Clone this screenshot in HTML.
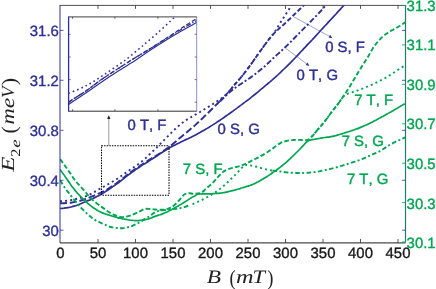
<!DOCTYPE html>
<html><head><meta charset="utf-8"><title>chart</title>
<style>html,body{margin:0;padding:0;background:#fff}body{width:436px;height:289px;overflow:hidden;position:relative;font-family:"Liberation Sans",sans-serif}</style></head>
<body>
<svg width="436" height="289" viewBox="0 0 436 289" style="position:absolute;left:0;top:0;font-family:'Liberation Sans',sans-serif;text-rendering:geometricPrecision;font-kerning:none;will-change:transform">
<rect width="436" height="289" fill="#fff"/>
<defs><clipPath id="c"><rect x="60" y="5.5" width="345.5" height="236.5"/></clipPath></defs>
<g clip-path="url(#c)">
<path d="M60.0,208.5 C60.7,208.4 62.7,208.3 64.0,208.2 C65.3,208.0 66.7,207.8 68.0,207.6 C69.3,207.4 70.7,207.1 72.0,206.7 C73.3,206.4 74.7,205.9 76.0,205.5 C77.3,205.1 78.7,204.5 80.0,204.0 C81.3,203.5 82.7,202.9 84.0,202.3 C85.3,201.7 86.7,201.2 88.0,200.6 C89.3,200.1 90.7,199.5 92.0,198.9 C93.3,198.3 94.7,197.7 96.0,197.0 C97.3,196.3 98.7,195.6 100.0,194.9 C101.3,194.2 102.7,193.4 104.0,192.6 C105.3,191.7 106.7,190.8 108.0,190.0 C109.3,189.1 110.7,188.2 112.0,187.2 C113.3,186.3 114.7,185.4 116.0,184.4 C117.3,183.5 118.7,182.5 120.0,181.5 C121.3,180.5 122.7,179.4 124.0,178.4 C125.3,177.3 126.7,176.2 128.0,175.2 C129.3,174.2 130.7,173.2 132.0,172.2 C133.3,171.2 134.7,170.3 136.0,169.4 C137.3,168.4 138.7,167.5 140.0,166.7 C141.3,165.8 142.7,164.9 144.0,164.1 C145.3,163.3 146.7,162.5 148.0,161.7 C149.3,160.8 150.7,160.0 152.0,159.1 C153.3,158.3 154.7,157.4 156.0,156.5 C157.3,155.6 158.7,154.8 160.0,153.9 C161.3,153.0 162.7,152.1 164.0,151.2 C165.3,150.4 166.7,149.5 168.0,148.7 C169.3,147.9 170.7,147.2 172.0,146.5 C173.3,145.8 174.7,145.2 176.0,144.5 C177.3,143.8 178.7,143.2 180.0,142.5 C181.3,141.9 182.7,141.2 184.0,140.6 C185.3,139.9 186.7,139.3 188.0,138.7 C189.3,138.0 190.7,137.4 192.0,136.7 C193.3,136.1 194.7,135.4 196.0,134.7 C197.3,134.0 198.7,133.2 200.0,132.5 C201.3,131.7 202.7,131.0 204.0,130.2 C205.3,129.4 206.7,128.7 208.0,127.9 C209.3,127.1 210.7,126.3 212.0,125.4 C213.3,124.6 214.7,123.7 216.0,122.9 C217.3,122.0 218.7,121.1 220.0,120.2 C221.3,119.3 222.7,118.4 224.0,117.5 C225.3,116.5 226.7,115.6 228.0,114.6 C229.3,113.7 230.7,112.7 232.0,111.8 C233.3,110.8 234.7,109.8 236.0,108.9 C237.3,107.9 238.7,106.9 240.0,105.9 C241.3,104.9 242.7,103.9 244.0,102.9 C245.3,101.9 246.7,100.9 248.0,99.9 C249.3,98.8 250.7,97.8 252.0,96.7 C253.3,95.7 254.7,94.6 256.0,93.5 C257.3,92.5 258.7,91.3 260.0,90.2 C261.3,89.1 262.7,88.0 264.0,86.8 C265.3,85.7 266.7,84.6 268.0,83.5 C269.3,82.4 270.7,81.3 272.0,80.2 C273.3,79.0 274.7,77.8 276.0,76.6 C277.3,75.4 278.7,74.1 280.0,72.9 C281.3,71.6 282.7,70.3 284.0,69.0 C285.3,67.8 286.7,66.5 288.0,65.1 C289.3,63.8 290.7,62.5 292.0,61.1 C293.3,59.8 294.7,58.4 296.0,57.0 C297.3,55.6 298.7,54.1 300.0,52.7 C301.3,51.3 302.7,49.9 304.0,48.4 C305.3,47.0 306.7,45.6 308.0,44.2 C309.3,42.8 310.7,41.4 312.0,40.0 C313.3,38.5 314.7,37.1 316.0,35.6 C317.3,34.2 318.7,32.7 320.0,31.2 C321.3,29.8 322.7,28.4 324.0,26.9 C325.3,25.5 326.7,24.1 328.0,22.6 C329.3,21.2 330.7,19.8 332.0,18.3 C333.3,16.9 334.7,15.4 336.0,14.0 C337.3,12.5 338.7,11.0 340.0,9.6 C341.3,8.1 342.7,6.6 344.0,5.2 C345.3,3.7 347.0,1.8 348.0,0.7 C349.0,-0.4 349.7,-1.1 350.0,-1.5" fill="none" stroke="#2e3192" stroke-width="1.7"/>
<path d="M60.0,203.3 C60.7,203.3 62.7,203.2 64.0,203.2 C65.3,203.1 66.7,203.0 68.0,202.9 C69.3,202.8 70.7,202.7 72.0,202.5 C73.3,202.3 74.7,202.1 76.0,201.8 C77.3,201.6 78.7,201.2 80.0,200.8 C81.3,200.5 82.7,200.0 84.0,199.5 C85.3,199.1 86.7,198.6 88.0,198.1 C89.3,197.6 90.7,197.0 92.0,196.4 C93.3,195.8 94.7,195.2 96.0,194.7 C97.3,194.1 98.7,193.6 100.0,193.0 C101.3,192.4 102.7,191.8 104.0,191.1 C105.3,190.4 106.7,189.6 108.0,188.8 C109.3,188.0 110.7,187.2 112.0,186.3 C113.3,185.4 114.7,184.4 116.0,183.5 C117.3,182.5 118.7,181.5 120.0,180.5 C121.3,179.5 122.7,178.4 124.0,177.4 C125.3,176.3 126.7,175.2 128.0,174.2 C129.3,173.2 130.7,172.2 132.0,171.2 C133.3,170.3 134.7,169.4 136.0,168.5 C137.3,167.6 138.7,166.7 140.0,165.9 C141.3,165.0 142.7,164.1 144.0,163.2 C145.3,162.3 146.7,161.4 148.0,160.6 C149.3,159.7 150.7,158.9 152.0,158.1 C153.3,157.3 154.7,156.5 156.0,155.7 C157.3,154.9 158.7,154.1 160.0,153.3 C161.3,152.4 162.7,151.5 164.0,150.6 C165.3,149.7 166.7,148.8 168.0,147.8 C169.3,146.8 170.7,145.8 172.0,144.7 C173.3,143.6 174.7,142.4 176.0,141.3 C177.3,140.1 178.7,139.0 180.0,137.8 C181.3,136.7 182.7,135.6 184.0,134.5 C185.3,133.4 186.7,132.3 188.0,131.2 C189.3,130.1 190.7,129.0 192.0,127.8 C193.3,126.7 194.7,125.6 196.0,124.4 C197.3,123.2 198.7,121.9 200.0,120.7 C201.3,119.4 202.7,118.1 204.0,116.8 C205.3,115.6 206.7,114.3 208.0,113.0 C209.3,111.7 210.7,110.3 212.0,109.0 C213.3,107.7 214.7,106.3 216.0,105.0 C217.3,103.7 219.3,101.7 220.0,101.0" fill="none" stroke="#2e3192" stroke-width="1.9" stroke-dasharray="7 2.8"/>
<path d="M220.0,101.0 C220.7,100.3 222.7,98.3 224.0,96.9 C225.3,95.5 226.7,94.0 228.0,92.5 C229.3,91.0 230.7,89.5 232.0,87.9 C233.3,86.4 234.7,84.8 236.0,83.2 C237.3,81.7 238.7,80.1 240.0,78.5 C241.3,76.9 242.7,75.3 244.0,73.6 C245.3,71.9 246.7,70.2 248.0,68.4 C249.3,66.6 250.7,64.6 252.0,62.8 C253.3,60.9 254.7,59.0 256.0,57.1 C257.3,55.2 258.7,53.4 260.0,51.5 C261.3,49.7 262.7,47.8 264.0,45.9 C265.3,44.1 266.7,42.3 268.0,40.5 C269.3,38.8 270.7,37.2 272.0,35.7 C273.3,34.2 274.7,32.7 276.0,31.4 C277.3,30.1 278.7,29.0 280.0,27.8 C281.3,26.7 282.7,25.5 284.0,24.3 C285.3,23.1 286.7,21.8 288.0,20.5 C289.3,19.3 290.7,18.0 292.0,16.7 C293.3,15.4 294.7,14.1 296.0,12.8 C297.3,11.6 298.7,10.3 300.0,9.0 C301.3,7.7 302.7,6.3 304.0,5.0 C305.3,3.7 307.2,1.8 308.0,1.0 C308.8,0.2 308.8,0.2 309.0,0.0" fill="none" stroke="#2e3192" stroke-width="1.9" stroke-dasharray="4.7 2.3"/>
<path d="M220.0,101.3 C220.7,100.7 222.7,98.8 224.0,97.5 C225.3,96.3 226.7,94.9 228.0,93.7 C229.3,92.5 230.7,91.4 232.0,90.3 C233.3,89.2 234.7,88.2 236.0,87.2 C237.3,86.2 238.7,85.4 240.0,84.5 C241.3,83.6 242.7,82.8 244.0,81.9 C245.3,81.0 246.7,80.1 248.0,79.2 C249.3,78.3 250.7,77.4 252.0,76.4 C253.3,75.5 254.7,74.5 256.0,73.5 C257.3,72.5 258.7,71.4 260.0,70.3 C261.3,69.2 262.7,68.1 264.0,66.9 C265.3,65.7 266.7,64.5 268.0,63.2 C269.3,62.0 270.7,60.7 272.0,59.4 C273.3,58.2 274.7,57.0 276.0,55.7 C277.3,54.5 278.7,53.3 280.0,52.1 C281.3,50.9 282.7,49.6 284.0,48.4 C285.3,47.1 286.7,45.9 288.0,44.6 C289.3,43.3 290.7,41.9 292.0,40.6 C293.3,39.2 294.7,37.8 296.0,36.4 C297.3,35.0 298.7,33.7 300.0,32.3 C301.3,30.9 302.7,29.6 304.0,28.3 C305.3,27.0 306.7,25.6 308.0,24.3 C309.3,22.9 310.7,21.5 312.0,20.2 C313.3,18.8 314.7,17.5 316.0,16.1 C317.3,14.7 318.7,13.3 320.0,11.8 C321.3,10.4 322.7,8.8 324.0,7.3 C325.3,5.8 326.8,4.2 328.0,2.9 C329.2,1.5 330.5,0.1 331.0,-0.5" fill="none" stroke="#2e3192" stroke-width="1.9" stroke-dasharray="5.6 2.2 2 2.2"/>
<path d="M60.0,201.2 C60.7,201.2 62.7,201.1 64.0,201.0 C65.3,200.9 66.7,200.8 68.0,200.6 C69.3,200.4 70.7,200.2 72.0,199.9 C73.3,199.7 74.7,199.3 76.0,199.0 C77.3,198.7 78.7,198.4 80.0,198.1 C81.3,197.7 82.7,197.4 84.0,196.9 C85.3,196.5 86.7,196.0 88.0,195.4 C89.3,194.8 90.7,194.1 92.0,193.3 C93.3,192.6 94.7,191.7 96.0,191.0 C97.3,190.2 98.7,189.4 100.0,188.7 C101.3,187.9 102.7,187.3 104.0,186.5 C105.3,185.8 106.7,185.1 108.0,184.3 C109.3,183.5 110.7,182.8 112.0,182.0 C113.3,181.2 114.7,180.4 116.0,179.6 C117.3,178.7 118.7,177.8 120.0,176.9 C121.3,176.0 122.7,175.0 124.0,174.1 C125.3,173.1 126.7,172.2 128.0,171.2 C129.3,170.3 130.7,169.4 132.0,168.4 C133.3,167.5 134.7,166.7 136.0,165.7 C137.3,164.8 138.7,163.9 140.0,162.9 C141.3,161.9 142.7,160.8 144.0,159.6 C145.3,158.4 146.7,157.2 148.0,155.9 C149.3,154.6 150.7,153.4 152.0,152.1 C153.3,150.8 154.7,149.5 156.0,148.2 C157.3,146.9 158.7,145.5 160.0,144.2 C161.3,142.9 162.7,141.5 164.0,140.2 C165.3,138.9 166.7,137.5 168.0,136.2 C169.3,134.8 170.7,133.5 172.0,132.2 C173.3,130.9 174.7,129.5 176.0,128.2 C177.3,127.0 178.7,125.8 180.0,124.7 C181.3,123.5 182.7,122.5 184.0,121.5 C185.3,120.5 186.7,119.7 188.0,118.9 C189.3,118.1 190.7,117.4 192.0,116.6 C193.3,115.9 194.7,115.1 196.0,114.3 C197.3,113.6 198.7,112.8 200.0,112.0 C201.3,111.2 202.7,110.3 204.0,109.5 C205.3,108.7 206.7,107.9 208.0,107.1 C209.3,106.3 210.7,105.5 212.0,104.6 C213.3,103.8 214.7,103.0 216.0,102.1 C217.3,101.2 218.7,100.2 220.0,99.2 C221.3,98.3 222.7,97.5 224.0,96.3 C225.3,95.2 226.7,93.9 228.0,92.5 C229.3,91.1 230.7,89.5 232.0,87.9 C233.3,86.4 234.7,84.8 236.0,83.2 C237.3,81.7 238.7,80.1 240.0,78.5 C241.3,76.9 242.7,75.3 244.0,73.6 C245.3,71.9 246.7,70.2 248.0,68.4 C249.3,66.6 250.7,64.6 252.0,62.8 C253.3,60.9 254.7,59.0 256.0,57.1 C257.3,55.2 258.7,53.4 260.0,51.5 C261.3,49.7 262.7,47.8 264.0,46.0 C265.3,44.1 266.7,42.3 268.0,40.5 C269.3,38.8 270.7,37.3 272.0,35.5 C273.3,33.8 274.7,32.1 276.0,30.1 C277.3,28.0 278.7,25.4 280.0,23.2 C281.3,21.0 282.7,19.0 284.0,17.0 C285.3,14.9 286.7,12.8 288.0,10.8 C289.3,8.8 290.8,6.5 292.0,4.8 C293.2,3.0 294.5,0.8 295.0,0.0" fill="none" stroke="#2e3192" stroke-width="1.9" stroke-dasharray="2 3.1"/>
<path d="M60.1,169.5 C60.5,170.1 61.7,171.7 62.5,172.9 C63.3,174.0 64.2,175.2 65.0,176.4 C65.8,177.6 66.7,178.8 67.5,180.0 C68.3,181.2 69.2,182.5 70.0,183.6 C70.8,184.8 71.7,186.0 72.5,187.1 C73.3,188.2 74.2,189.4 75.0,190.4 C75.8,191.4 76.7,192.3 77.5,193.2 C78.3,194.1 79.2,194.9 80.0,195.8 C80.8,196.6 81.7,197.5 82.5,198.3 C83.3,199.1 84.2,199.9 85.0,200.7 C85.8,201.5 86.7,202.3 87.5,203.1 C88.3,203.8 89.2,204.5 90.0,205.2 C90.8,205.8 91.7,206.5 92.5,207.1 C93.3,207.7 94.2,208.2 95.0,208.8 C95.8,209.4 96.7,209.9 97.5,210.4 C98.3,210.9 99.2,211.4 100.0,211.8 C100.8,212.2 101.7,212.5 102.5,212.9 C103.3,213.2 104.2,213.5 105.0,213.8 C105.8,214.1 106.7,214.3 107.5,214.6 C108.3,214.9 109.2,215.1 110.0,215.4 C110.8,215.6 111.7,215.9 112.5,216.2 C113.3,216.4 114.2,216.7 115.0,216.9 C115.8,217.2 116.7,217.4 117.5,217.6 C118.3,217.9 119.2,218.1 120.0,218.2 C120.8,218.4 121.7,218.6 122.5,218.8 C123.3,218.9 124.2,219.1 125.0,219.2 C125.8,219.4 126.7,219.5 127.5,219.7 C128.3,219.8 129.2,219.9 130.0,220.1 C130.8,220.2 131.7,220.3 132.5,220.4 C133.3,220.5 134.2,220.5 135.0,220.6 C135.8,220.6 136.7,220.6 137.5,220.6 C138.3,220.6 139.2,220.5 140.0,220.4 C140.8,220.3 141.7,220.2 142.5,220.1 C143.3,220.0 144.2,219.8 145.0,219.7 C145.8,219.5 146.7,219.4 147.5,219.2 C148.3,219.0 149.2,218.8 150.0,218.5 C150.8,218.2 151.7,217.8 152.5,217.4 C153.3,217.1 154.2,216.7 155.0,216.4 C155.8,216.1 156.7,215.8 157.5,215.6 C158.3,215.3 159.2,215.0 160.0,214.8 C160.8,214.5 161.7,214.2 162.5,213.9 C163.3,213.5 164.2,213.2 165.0,212.8 C165.8,212.5 166.7,212.1 167.5,211.7 C168.3,211.3 169.2,210.9 170.0,210.4 C170.8,210.0 171.7,209.6 172.5,209.1 C173.3,208.7 174.2,208.3 175.0,207.8 C175.8,207.3 176.7,206.9 177.5,206.4 C178.3,205.9 179.2,205.4 180.0,204.9 C180.8,204.4 181.7,203.9 182.5,203.4 C183.3,202.8 184.2,202.3 185.0,201.8 C185.8,201.2 186.7,200.7 187.5,200.2 C188.3,199.7 189.2,199.1 190.0,198.6 C190.8,198.1 191.7,197.6 192.5,197.1 C193.3,196.6 194.2,196.1 195.0,195.7 C195.8,195.2 196.7,194.6 197.5,194.3 C198.3,194.0 199.2,194.0 200.0,194.0 C200.8,193.9 201.7,193.9 202.5,193.9 C203.3,193.9 204.2,193.9 205.0,193.9 C205.8,193.9 206.7,193.9 207.5,193.9 C208.3,193.8 209.2,193.8 210.0,193.8 C210.8,193.7 211.7,193.7 212.5,193.7 C213.3,193.6 214.2,193.6 215.0,193.5 C215.8,193.5 216.7,193.4 217.5,193.4 C218.3,193.3 219.2,193.3 220.0,193.2 C220.8,193.1 221.7,193.0 222.5,192.8 C223.3,192.7 224.2,192.6 225.0,192.4 C225.8,192.2 226.7,192.0 227.5,191.8 C228.3,191.7 229.2,191.4 230.0,191.2 C230.8,191.0 231.7,190.8 232.5,190.6 C233.3,190.4 234.2,190.2 235.0,190.0 C235.8,189.8 236.7,189.5 237.5,189.3 C238.3,189.1 239.2,188.8 240.0,188.6 C240.8,188.3 241.7,188.0 242.5,187.8 C243.3,187.5 244.2,187.3 245.0,187.0 C245.8,186.7 246.7,186.5 247.5,186.3 C248.3,186.0 249.2,185.8 250.0,185.5 C250.8,185.2 251.7,184.9 252.5,184.5 C253.3,184.2 254.2,183.8 255.0,183.4 C255.8,183.0 256.7,182.5 257.5,182.1 C258.3,181.6 259.2,181.2 260.0,180.7 C260.8,180.2 261.7,179.7 262.5,179.2 C263.3,178.7 264.2,178.2 265.0,177.7 C265.8,177.2 266.7,176.7 267.5,176.2 C268.3,175.7 269.2,175.1 270.0,174.6 C270.8,174.0 271.7,173.4 272.5,172.8 C273.3,172.3 274.2,171.7 275.0,171.1 C275.8,170.5 276.7,169.9 277.5,169.3 C278.3,168.7 279.2,168.1 280.0,167.4 C280.8,166.8 281.7,166.2 282.5,165.5 C283.3,164.8 284.2,164.1 285.0,163.4 C285.8,162.7 286.7,161.9 287.5,161.2 C288.3,160.4 289.2,159.6 290.0,158.9 C290.8,158.1 291.7,157.3 292.5,156.5 C293.3,155.7 294.2,154.8 295.0,154.0 C295.8,153.2 296.7,152.3 297.5,151.5 C298.3,150.7 299.2,149.8 300.0,149.0 C300.8,148.1 301.7,147.3 302.5,146.4 C303.3,145.5 304.2,144.5 305.0,143.6 C305.8,142.8 306.7,141.7 307.5,141.2 C308.3,140.6 309.2,140.5 310.0,140.2 C310.8,140.0 311.7,139.8 312.5,139.6 C313.3,139.4 314.2,139.3 315.0,139.2 C315.8,139.0 316.7,138.9 317.5,138.7 C318.3,138.6 319.2,138.4 320.0,138.3 C320.8,138.1 321.7,138.0 322.5,137.9 C323.3,137.7 324.2,137.6 325.0,137.5 C325.8,137.4 326.7,137.3 327.5,137.2 C328.3,137.1 329.2,137.0 330.0,136.9 C330.8,136.8 331.7,136.6 332.5,136.4 C333.3,136.2 334.2,136.0 335.0,135.8 C335.8,135.6 336.7,135.4 337.5,135.1 C338.3,134.9 339.2,134.6 340.0,134.3 C340.8,134.1 341.7,133.8 342.5,133.6 C343.3,133.3 344.2,133.1 345.0,132.8 C345.8,132.5 346.7,132.3 347.5,132.0 C348.3,131.8 349.2,131.5 350.0,131.2 C350.8,130.9 351.7,130.7 352.5,130.4 C353.3,130.1 354.2,129.8 355.0,129.5 C355.8,129.2 356.7,128.9 357.5,128.6 C358.3,128.3 359.2,127.9 360.0,127.6 C360.8,127.3 361.7,127.0 362.5,126.6 C363.3,126.3 364.2,125.9 365.0,125.5 C365.8,125.2 366.7,124.8 367.5,124.4 C368.3,124.0 369.2,123.6 370.0,123.2 C370.8,122.7 371.7,122.3 372.5,121.9 C373.3,121.5 374.2,121.0 375.0,120.6 C375.8,120.2 376.7,119.7 377.5,119.3 C378.3,118.8 379.2,118.4 380.0,117.9 C380.8,117.5 381.7,117.0 382.5,116.6 C383.3,116.1 384.2,115.7 385.0,115.2 C385.8,114.8 386.7,114.3 387.5,113.8 C388.3,113.4 389.2,112.9 390.0,112.4 C390.8,111.9 391.7,111.5 392.5,111.0 C393.3,110.5 394.2,110.0 395.0,109.5 C395.8,109.0 396.7,108.6 397.5,108.1 C398.3,107.6 399.2,107.1 400.0,106.6 C400.8,106.1 401.7,105.6 402.5,105.1 C403.3,104.6 404.6,103.8 405.0,103.5 C405.4,103.2 405.2,103.4 405.2,103.4" fill="none" stroke="#00a651" stroke-width="1.7"/>
<path d="M60.1,159.1 C60.5,159.6 61.7,161.3 62.5,162.4 C63.3,163.5 64.2,164.7 65.0,165.8 C65.8,167.0 66.7,168.1 67.5,169.3 C68.3,170.5 69.2,171.7 70.0,172.9 C70.8,174.1 71.7,175.4 72.5,176.7 C73.3,177.9 74.2,179.1 75.0,180.2 C75.8,181.3 76.7,182.3 77.5,183.3 C78.3,184.2 79.2,185.1 80.0,186.0 C80.8,186.9 81.7,187.8 82.5,188.7 C83.3,189.6 84.2,190.5 85.0,191.5 C85.8,192.5 86.7,193.6 87.5,194.6 C88.3,195.6 89.2,196.6 90.0,197.5 C90.8,198.4 91.7,199.1 92.5,199.8 C93.3,200.6 94.2,201.2 95.0,201.9 C95.8,202.6 96.7,203.2 97.5,203.9 C98.3,204.5 99.2,205.1 100.0,205.8 C100.8,206.4 101.7,206.9 102.5,207.5 C103.3,208.1 104.2,208.7 105.0,209.3 C105.8,209.9 106.7,210.6 107.5,211.2 C108.3,211.7 109.2,212.3 110.0,212.8 C110.8,213.4 111.7,213.8 112.5,214.2 C113.3,214.6 114.2,214.9 115.0,215.2 C115.8,215.5 116.7,215.8 117.5,216.1 C118.3,216.4 119.2,216.6 120.0,216.8 C120.8,217.0 121.7,217.1 122.5,217.1 C123.3,217.1 124.2,217.0 125.0,216.9 C125.8,216.7 126.7,216.5 127.5,216.3 C128.3,216.1 129.2,215.9 130.0,215.6 C130.8,215.3 131.7,215.0 132.5,214.7 C133.3,214.4 134.2,214.0 135.0,213.6 C135.8,213.2 136.7,212.9 137.5,212.5 C138.3,212.1 139.2,211.7 140.0,211.2 C140.8,210.8 141.7,210.3 142.5,209.9 C143.3,209.5 144.2,209.1 145.0,208.9 C145.8,208.8 146.7,208.8 147.5,208.8 C148.3,208.8 149.2,209.0 150.0,209.0 C150.8,209.1 151.7,209.2 152.5,209.3 C153.3,209.4 154.2,209.4 155.0,209.5 C155.8,209.6 156.7,209.6 157.5,209.6 C158.3,209.7 159.2,209.7 160.0,209.8 C160.8,209.8 161.7,209.8 162.5,209.8 C163.3,209.8 164.2,209.7 165.0,209.5 C165.8,209.4 166.7,209.1 167.5,208.9 C168.3,208.6 169.2,208.3 170.0,208.0 C170.8,207.6 171.7,207.3 172.5,206.7 C173.3,206.1 174.2,205.3 175.0,204.6 C175.8,203.8 176.7,202.9 177.5,202.0 C178.3,201.1 179.2,200.4 180.0,199.4 C180.8,198.4 181.7,197.0 182.5,196.1 C183.3,195.2 184.2,194.4 185.0,194.0 C185.8,193.6 186.7,193.5 187.5,193.4 C188.3,193.3 189.2,193.3 190.0,193.3 C190.8,193.4 191.7,193.6 192.5,193.7 C193.3,193.7 194.2,193.7 195.0,193.7 C195.8,193.6 196.7,193.6 197.5,193.5 C198.3,193.4 199.2,193.5 200.0,193.2 C200.8,193.0 201.7,192.6 202.5,192.0 C203.3,191.4 204.2,190.4 205.0,189.6 C205.8,188.9 206.7,188.2 207.5,187.5 C208.3,186.8 209.2,186.1 210.0,185.3 C210.8,184.6 211.7,183.8 212.5,183.0 C213.3,182.2 214.2,181.2 215.0,180.3 C215.8,179.4 216.7,178.3 217.5,177.4 C218.3,176.5 219.2,175.6 220.0,174.8 C220.8,174.0 221.7,173.1 222.5,172.4 C223.3,171.7 224.2,171.0 225.0,170.6 C225.8,170.1 226.7,169.8 227.5,169.4 C228.3,169.1 229.2,168.8 230.0,168.6 C230.8,168.3 231.7,168.1 232.5,167.8 C233.3,167.6 234.2,167.4 235.0,167.2 C235.8,167.0 236.7,166.9 237.5,166.7 C238.3,166.5 239.2,166.3 240.0,166.0 C240.8,165.8 241.7,165.4 242.5,165.1 C243.3,164.7 244.2,164.4 245.0,164.0 C245.8,163.6 246.7,163.3 247.5,162.9 C248.3,162.5 249.2,162.0 250.0,161.6 C250.8,161.2 251.7,160.7 252.5,160.3 C253.3,159.9 254.2,159.5 255.0,159.1 C255.8,158.7 256.7,158.3 257.5,157.9 C258.3,157.5 259.2,157.0 260.0,156.6 C260.8,156.1 261.7,155.6 262.5,155.1 C263.3,154.6 264.2,154.1 265.0,153.6 C265.8,153.0 266.7,152.5 267.5,152.0 C268.3,151.5 269.2,150.9 270.0,150.4 C270.8,149.9 271.7,149.3 272.5,148.7 C273.3,148.1 274.2,147.4 275.0,146.8 C275.8,146.2 276.7,145.5 277.5,144.9 C278.3,144.3 279.2,143.9 280.0,143.4 C280.8,142.9 281.7,142.4 282.5,142.1 C283.3,141.7 284.2,141.5 285.0,141.3 C285.8,141.0 286.7,140.8 287.5,140.7 C288.3,140.5 289.2,140.4 290.0,140.3 C290.8,140.2 291.7,140.1 292.5,140.1 C293.3,140.0 294.2,140.0 295.0,139.9 C295.8,139.9 296.7,139.9 297.5,139.9 C298.3,139.9 299.2,139.9 300.0,139.9 C300.8,140.0 301.7,140.0 302.5,140.1 C303.3,140.1 304.2,140.1 305.0,140.2 C305.8,140.2 306.7,140.5 307.5,140.2 C308.3,139.9 309.2,139.1 310.0,138.4 C310.8,137.6 311.7,136.7 312.5,135.8 C313.3,134.9 314.2,133.9 315.0,132.9 C315.8,131.9 316.7,130.9 317.5,129.9 C318.3,129.0 319.2,128.1 320.0,127.1 C320.8,126.1 321.7,125.2 322.5,124.2 C323.3,123.1 324.2,122.1 325.0,121.0 C325.8,119.9 326.7,118.8 327.5,117.7 C328.3,116.5 329.2,115.4 330.0,114.2 C330.8,113.1 331.7,111.9 332.5,110.9 C333.3,109.8 334.2,108.8 335.0,107.7 C335.8,106.7 336.7,105.7 337.5,104.6 C338.3,103.5 339.2,102.4 340.0,101.2 C340.8,100.0 341.7,98.7 342.5,97.5 C343.3,96.3 344.2,95.1 345.0,93.9 C345.8,92.7 346.7,91.4 347.5,90.1 C348.3,88.8 349.2,87.5 350.0,86.2 C350.8,84.8 351.7,83.4 352.5,82.0 C353.3,80.6 354.2,79.1 355.0,77.7 C355.8,76.3 356.7,74.9 357.5,73.5 C358.3,72.1 359.2,70.7 360.0,69.4 C360.8,68.0 361.7,66.7 362.5,65.4 C363.3,64.1 364.2,62.8 365.0,61.5 C365.8,60.2 366.7,58.9 367.5,57.6 C368.3,56.2 369.2,54.7 370.0,53.3 C370.8,51.8 371.7,50.2 372.5,48.9 C373.3,47.5 374.2,46.3 375.0,45.2 C375.8,44.0 376.7,43.0 377.5,42.0 C378.3,41.0 379.2,40.1 380.0,39.3 C380.8,38.4 381.7,37.6 382.5,36.9 C383.3,36.1 384.2,35.4 385.0,34.8 C385.8,34.1 386.7,33.5 387.5,32.9 C388.3,32.3 389.2,31.8 390.0,31.4 C390.8,30.9 391.7,30.5 392.5,30.0 C393.3,29.6 394.2,29.1 395.0,28.7 C395.8,28.2 396.7,27.7 397.5,27.2 C398.3,26.7 399.2,26.2 400.0,25.7 C400.8,25.1 401.7,24.6 402.5,24.1 C403.3,23.6 404.5,22.8 405.0,22.5 C405.5,22.2 405.2,22.3 405.3,22.3" fill="none" stroke="#00a651" stroke-width="1.9" stroke-dasharray="4.7 2.3"/>
<path d="M60.1,180.4 C60.5,181.0 61.7,183.0 62.5,184.3 C63.3,185.6 64.2,186.9 65.0,188.1 C65.8,189.2 66.7,190.4 67.5,191.4 C68.3,192.5 69.2,193.4 70.0,194.4 C70.8,195.5 71.7,196.6 72.5,197.7 C73.3,198.8 74.2,200.1 75.0,201.1 C75.8,202.2 76.7,203.3 77.5,204.2 C78.3,205.2 79.2,206.0 80.0,206.8 C80.8,207.6 81.7,208.4 82.5,209.2 C83.3,210.0 84.2,210.8 85.0,211.7 C85.8,212.5 86.7,213.3 87.5,214.1 C88.3,214.8 89.2,215.6 90.0,216.3 C90.8,217.0 91.7,217.6 92.5,218.2 C93.3,218.8 94.2,219.4 95.0,219.9 C95.8,220.4 96.7,220.9 97.5,221.3 C98.3,221.7 99.2,222.1 100.0,222.5 C100.8,222.9 101.7,223.3 102.5,223.7 C103.3,224.0 104.2,224.4 105.0,224.7 C105.8,225.1 106.7,225.5 107.5,225.8 C108.3,226.2 109.2,226.5 110.0,226.8 C110.8,227.0 111.7,227.3 112.5,227.4 C113.3,227.6 114.2,227.7 115.0,227.8 C115.8,227.9 116.7,228.0 117.5,228.0 C118.3,228.1 119.2,228.2 120.0,228.2 C120.8,228.2 121.7,228.2 122.5,228.2 C123.3,228.1 124.2,228.0 125.0,227.8 C125.8,227.7 126.7,227.5 127.5,227.3 C128.3,227.1 129.2,226.9 130.0,226.7 C130.8,226.5 131.7,226.2 132.5,225.8 C133.3,225.5 134.2,225.1 135.0,224.7 C135.8,224.3 136.7,223.9 137.5,223.5 C138.3,223.0 139.2,222.5 140.0,222.0 C140.8,221.5 141.7,221.0 142.5,220.4 C143.3,219.9 144.2,219.4 145.0,218.9 C145.8,218.5 146.7,218.0 147.5,217.5 C148.3,217.0 149.2,216.5 150.0,215.9 C150.8,215.3 151.7,214.6 152.5,214.0 C153.3,213.4 154.2,212.8 155.0,212.3 C155.8,211.8 156.7,211.5 157.5,211.3 C158.3,211.0 159.2,210.9 160.0,210.7 C160.8,210.5 161.7,210.4 162.5,210.3 C163.3,210.2 164.2,210.1 165.0,210.0 C165.8,209.9 166.7,209.8 167.5,209.7 C168.3,209.6 169.2,209.5 170.0,209.4 C170.8,209.3 171.7,209.2 172.5,209.1 C173.3,209.1 174.2,209.0 175.0,208.9 C175.8,208.8 176.7,208.7 177.5,208.5 C178.3,208.4 179.2,208.3 180.0,208.1 C180.8,207.9 181.7,207.7 182.5,207.5 C183.3,207.3 184.2,207.1 185.0,206.8 C185.8,206.6 186.7,206.3 187.5,206.0 C188.3,205.7 189.6,205.3 190.0,205.1" fill="none" stroke="#00a651" stroke-width="1.9" stroke-dasharray="4.6 2.4 2 2.4"/>
<path d="M192.5,204.2 C192.9,204.1 194.2,203.5 195.0,203.2 C195.8,202.8 196.7,202.4 197.5,202.0 C198.3,201.6 199.2,201.3 200.0,200.9 C200.8,200.5 201.7,200.1 202.5,199.7 C203.3,199.2 204.2,198.8 205.0,198.4 C205.8,197.9 206.7,197.5 207.5,197.0 C208.3,196.6 209.2,196.1 210.0,195.6 C210.8,195.1 211.7,194.6 212.5,194.1 C213.3,193.6 214.2,193.1 215.0,192.5 C215.8,192.0 216.7,191.4 217.5,190.8 C218.3,190.2 219.2,189.6 220.0,188.9 C220.8,188.3 221.7,187.6 222.5,186.9 C223.3,186.2 224.2,185.5 225.0,184.7 C225.8,184.0 226.7,183.2 227.5,182.4 C228.3,181.6 229.2,180.8 230.0,180.0 C230.8,179.2 231.7,178.4 232.5,177.6 C233.3,176.7 234.2,175.9 235.0,175.1 C235.8,174.3 236.7,173.5 237.5,172.6 C238.3,171.8 239.2,170.8 240.0,169.9 C240.8,169.0 241.7,168.0 242.5,167.1 C243.3,166.3 244.2,165.3 245.0,165.0 C245.8,164.7 246.7,165.1 247.5,165.1 C248.3,165.2 249.2,165.3 250.0,165.4 C250.8,165.5 251.7,165.6 252.5,165.8 C253.3,166.0 254.2,166.2 255.0,166.4 C255.8,166.6 256.7,166.8 257.5,167.1 C258.3,167.3 259.2,167.5 260.0,167.7 C260.8,167.9 261.7,168.2 262.5,168.4 C263.3,168.6 264.2,168.8 265.0,169.1 C265.8,169.3 266.7,169.5 267.5,169.7 C268.3,169.9 269.2,170.0 270.0,170.2 C270.8,170.4 272.1,170.5 272.5,170.6" fill="none" stroke="#00a651" stroke-width="1.9" stroke-dasharray="2 3.1"/>
<path d="M272.5,170.6 C272.9,170.6 274.2,170.8 275.0,170.9 C275.8,171.0 276.7,171.1 277.5,171.2 C278.3,171.3 279.2,171.4 280.0,171.5 C280.8,171.6 281.7,171.7 282.5,171.8 C283.3,171.9 284.2,172.1 285.0,172.2 C285.8,172.3 286.7,172.4 287.5,172.5 C288.3,172.5 289.2,172.6 290.0,172.7 C290.8,172.7 291.7,172.8 292.5,172.8 C293.3,172.8 294.2,172.9 295.0,172.9 C295.8,172.9 296.7,173.0 297.5,173.0 C298.3,173.0 299.2,173.0 300.0,173.0 C300.8,173.0 301.7,173.0 302.5,173.0 C303.3,172.9 304.2,172.9 305.0,172.8 C305.8,172.8 306.7,172.7 307.5,172.7 C308.3,172.6 309.2,172.5 310.0,172.5 C310.8,172.4 311.7,172.3 312.5,172.2 C313.3,172.1 314.2,172.1 315.0,172.0 C315.8,171.9 316.7,171.7 317.5,171.6 C318.3,171.5 319.2,171.3 320.0,171.2 C320.8,171.0 321.7,170.8 322.5,170.6 C323.3,170.5 324.2,170.3 325.0,170.1 C325.8,169.9 326.7,169.7 327.5,169.6 C328.3,169.4 329.2,169.2 330.0,169.0 C330.8,168.8 331.7,168.5 332.5,168.3 C333.3,168.1 334.2,167.9 335.0,167.7 C335.8,167.5 336.7,167.2 337.5,167.0 C338.3,166.8 339.2,166.5 340.0,166.3 C340.8,166.1 341.7,165.8 342.5,165.6 C343.3,165.3 344.2,165.1 345.0,164.8 C345.8,164.6 346.7,164.3 347.5,164.0 C348.3,163.8 349.2,163.5 350.0,163.2 C350.8,163.0 351.7,162.7 352.5,162.4 C353.3,162.1 354.2,161.8 355.0,161.6 C355.8,161.3 356.7,161.0 357.5,160.7 C358.3,160.4 359.2,160.2 360.0,159.9 C360.8,159.6 361.7,159.3 362.5,158.9 C363.3,158.6 364.2,158.2 365.0,157.9 C365.8,157.5 366.7,157.1 367.5,156.7 C368.3,156.3 369.2,156.0 370.0,155.6 C370.8,155.2 371.7,154.8 372.5,154.5 C373.3,154.1 374.2,153.8 375.0,153.4 C375.8,153.0 376.7,152.7 377.5,152.3 C378.3,151.9 379.2,151.5 380.0,151.0 C380.8,150.6 381.7,150.1 382.5,149.6 C383.3,149.1 384.2,148.4 385.0,147.9 C385.8,147.3 386.7,146.8 387.5,146.3 C388.3,145.8 389.2,145.3 390.0,144.8 C390.8,144.3 391.7,143.9 392.5,143.4 C393.3,142.9 394.2,142.5 395.0,142.1 C395.8,141.6 396.7,141.2 397.5,140.8 C398.3,140.5 399.2,140.1 400.0,139.8 C400.8,139.4 401.7,139.0 402.5,138.7 C403.3,138.3 404.6,137.8 405.0,137.6 C405.4,137.4 405.2,137.5 405.2,137.5" fill="none" stroke="#00a651" stroke-width="1.9" stroke-dasharray="4.6 2.4 2 2.4"/>
<path d="M307.3,140.2 C307.3,140.2 307.1,140.4 307.5,140.1 C307.9,139.7 309.2,138.9 310.0,138.2 C310.8,137.4 311.7,136.7 312.5,135.8 C313.3,134.9 314.2,133.9 315.0,132.9 C315.8,131.9 316.7,130.9 317.5,129.9 C318.3,129.0 319.2,128.1 320.0,127.1 C320.8,126.1 321.7,125.2 322.5,124.2 C323.3,123.1 324.2,122.1 325.0,121.0 C325.8,119.9 326.7,118.8 327.5,117.7 C328.3,116.5 329.2,115.4 330.0,114.2 C330.8,113.1 331.7,111.9 332.5,110.9 C333.3,109.8 334.2,108.8 335.0,107.7 C335.8,106.7 336.7,105.7 337.5,104.6 C338.3,103.5 339.2,102.3 340.0,101.1 C340.8,99.9 341.7,98.4 342.5,97.4 C343.3,96.4 344.2,95.6 345.0,95.0 C345.8,94.4 346.7,94.1 347.5,93.8 C348.3,93.5 349.2,93.3 350.0,93.0 C350.8,92.7 351.7,92.4 352.5,92.1 C353.3,91.9 354.2,91.6 355.0,91.3 C355.8,91.0 356.7,90.7 357.5,90.5 C358.3,90.2 359.2,89.9 360.0,89.6 C360.8,89.3 361.7,89.0 362.5,88.6 C363.3,88.3 364.2,88.0 365.0,87.6 C365.8,87.3 366.7,86.9 367.5,86.5 C368.3,86.2 369.2,85.8 370.0,85.4 C370.8,85.1 371.7,84.7 372.5,84.3 C373.3,83.9 374.2,83.5 375.0,83.2 C375.8,82.8 376.7,82.4 377.5,82.0 C378.3,81.6 379.2,81.2 380.0,80.8 C380.8,80.3 381.7,79.9 382.5,79.5 C383.3,79.0 384.2,78.5 385.0,78.1 C385.8,77.6 386.7,77.1 387.5,76.6 C388.3,76.1 389.2,75.6 390.0,75.1 C390.8,74.5 391.7,74.0 392.5,73.5 C393.3,73.0 394.2,72.4 395.0,71.8 C395.8,71.3 396.7,70.7 397.5,70.2 C398.3,69.6 399.2,69.0 400.0,68.5 C400.8,68.0 401.7,67.5 402.5,66.9 C403.3,66.4 404.6,65.7 405.0,65.4 C405.4,65.1 405.2,65.3 405.2,65.3" fill="none" stroke="#00a651" stroke-width="1.9" stroke-dasharray="2 3.1"/>
</g>
<path d="M60,5.4 H405.5" stroke="#222" stroke-width="0.8" fill="none"/>
<path d="M60,242.85 H405.5" stroke="#4a4a4a" stroke-width="1.3" fill="none"/>
<path d="M60,5 V239.5" stroke="#2e3192" stroke-width="1" fill="none"/>
<path d="M60,239.5 V243" stroke="#444" stroke-width="1" fill="none"/>
<path d="M405.5,5 V242.4" stroke="#237d69" stroke-width="1.2" fill="none"/>
<path d="M98.0,242.8 v-3.9 M98.0,5.4 v3.5 M135.5,242.8 v-3.9 M135.5,5.4 v3.5 M173.0,242.8 v-3.9 M173.0,5.4 v3.5 M210.5,242.8 v-3.9 M210.5,5.4 v3.5 M248.0,242.8 v-3.9 M248.0,5.4 v3.5 M285.5,242.8 v-3.9 M285.5,5.4 v3.5 M323.0,242.8 v-3.9 M323.0,5.4 v3.5 M360.5,242.8 v-3.9 M360.5,5.4 v3.5 M398.0,242.8 v-3.9 M398.0,5.4 v3.5 " stroke="#222" stroke-width="0.75" fill="none"/>
<path d="M60,30.4 h3.5 M405.5,30.4 h-3.5 M60,80.3 h3.5 M405.5,80.3 h-3.5 M60,130.3 h3.5 M405.5,130.3 h-3.5 M60,180.3 h3.5 M405.5,180.3 h-3.5 M60,230.2 h3.5 M405.5,230.2 h-3.5 " stroke="#2e3192" stroke-width="0.8" fill="none"/>
<path d="M405.5,5.5 h-3.5 M405.5,44.9 h-3.5 M405.5,84.3 h-3.5 M405.5,123.8 h-3.5 M405.5,163.2 h-3.5 M405.5,202.6 h-3.5 M405.5,242.0 h-3.5 " stroke="#00a651" stroke-width="0.8" fill="none"/>
<text x="60.5" y="258" font-size="14.9" text-anchor="middle" fill="#1a1a1a" stroke="#1a1a1a" stroke-width="0.35">0</text>
<text x="98.0" y="258" font-size="14.9" text-anchor="middle" fill="#1a1a1a" stroke="#1a1a1a" stroke-width="0.35">50</text>
<text x="135.5" y="258" font-size="14.9" text-anchor="middle" fill="#1a1a1a" stroke="#1a1a1a" stroke-width="0.35">100</text>
<text x="173.0" y="258" font-size="14.9" text-anchor="middle" fill="#1a1a1a" stroke="#1a1a1a" stroke-width="0.35">150</text>
<text x="210.5" y="258" font-size="14.9" text-anchor="middle" fill="#1a1a1a" stroke="#1a1a1a" stroke-width="0.35">200</text>
<text x="248.0" y="258" font-size="14.9" text-anchor="middle" fill="#1a1a1a" stroke="#1a1a1a" stroke-width="0.35">250</text>
<text x="285.5" y="258" font-size="14.9" text-anchor="middle" fill="#1a1a1a" stroke="#1a1a1a" stroke-width="0.35">300</text>
<text x="323.0" y="258" font-size="14.9" text-anchor="middle" fill="#1a1a1a" stroke="#1a1a1a" stroke-width="0.35">350</text>
<text x="360.5" y="258" font-size="14.9" text-anchor="middle" fill="#1a1a1a" stroke="#1a1a1a" stroke-width="0.35">400</text>
<text x="398.0" y="258" font-size="14.9" text-anchor="middle" fill="#1a1a1a" stroke="#1a1a1a" stroke-width="0.35">450</text>
<text x="58.8" y="35.9" font-size="14.9" text-anchor="end" fill="#2e3192" stroke="#2e3192" stroke-width="0.35">31.6</text>
<text x="58.8" y="85.8" font-size="14.9" text-anchor="end" fill="#2e3192" stroke="#2e3192" stroke-width="0.35">31.2</text>
<text x="58.8" y="135.8" font-size="14.9" text-anchor="end" fill="#2e3192" stroke="#2e3192" stroke-width="0.35">30.8</text>
<text x="58.8" y="185.8" font-size="14.9" text-anchor="end" fill="#2e3192" stroke="#2e3192" stroke-width="0.35">30.4</text>
<text x="58.8" y="235.7" font-size="14.9" text-anchor="end" fill="#2e3192" stroke="#2e3192" stroke-width="0.35">30</text>
<text x="406.6" y="10.6" font-size="14.9" fill="#00a651" stroke="#00a651" stroke-width="0.35">31.3</text>
<text x="406.6" y="50.2" font-size="14.9" fill="#00a651" stroke="#00a651" stroke-width="0.35">31.1</text>
<text x="406.6" y="89.8" font-size="14.9" fill="#00a651" stroke="#00a651" stroke-width="0.35">30.9</text>
<text x="406.6" y="129.3" font-size="14.9" fill="#00a651" stroke="#00a651" stroke-width="0.35">30.7</text>
<text x="406.6" y="168.9" font-size="14.9" fill="#00a651" stroke="#00a651" stroke-width="0.35">30.5</text>
<text x="406.6" y="208.5" font-size="14.9" fill="#00a651" stroke="#00a651" stroke-width="0.35">30.3</text>
<text x="406.6" y="248.1" font-size="14.9" fill="#00a651" stroke="#00a651" stroke-width="0.35">30.1</text>
<rect x="68.6" y="16.9" width="128.1" height="94.30000000000001" fill="#fff"/>
<defs><clipPath id="ci"><rect x="68.6" y="16.9" width="128.1" height="94.30000000000001"/></clipPath></defs>
<g clip-path="url(#ci)">
<path d="M68.6,104.4 C71.6,102.4 80.1,97.0 86.9,92.3 C93.8,87.6 102.9,81.1 109.7,76.5 C116.5,71.9 123.6,67.7 128.0,64.9 C132.4,62.2 132.2,62.5 136.0,60.0 C139.8,57.5 144.6,53.9 150.9,49.8 C157.2,45.7 166.1,40.0 173.7,35.5 C181.3,31.0 192.8,24.8 196.6,22.6" fill="none" stroke="#2e3192" stroke-width="1.15"/>
<path d="M68.6,102.1 C71.6,100.1 82.0,93.6 86.9,90.3 C91.8,87.0 94.2,84.7 98.0,82.0 C101.8,79.3 104.7,77.3 109.7,74.0 C114.7,70.7 123.6,65.0 128.0,62.2 C132.4,59.4 132.2,59.5 136.0,57.2 C139.8,54.9 144.6,52.2 150.9,48.2 C157.2,44.2 167.7,37.4 173.7,33.4 C179.7,29.4 183.2,26.9 187.0,24.5 C190.8,22.1 195.0,19.7 196.6,18.7" fill="none" stroke="#2e3192" stroke-width="1.25" stroke-dasharray="4.2 2.2"/>
<path d="M68.6,102.1 C71.6,100.1 82.0,93.6 86.9,90.3 C91.8,87.0 94.2,84.7 98.0,82.0 C101.8,79.3 104.7,77.3 109.7,74.0 C114.7,70.7 123.6,65.0 128.0,62.2 C132.4,59.4 132.2,59.5 136.0,57.2 C139.8,54.9 144.6,52.1 150.9,48.2 C157.2,44.3 167.7,37.7 173.7,34.0 C179.7,30.3 183.2,28.2 187.0,26.0 C190.8,23.8 195.0,21.4 196.6,20.5" fill="none" stroke="#2e3192" stroke-width="1.25" stroke-dasharray="5 1.8 1.4 1.8"/>
<path d="M68.6,93.4 C71.6,92.1 80.8,88.6 86.9,85.4 C93.0,82.2 99.0,78.0 105.1,74.0 C111.2,70.0 119.6,64.1 123.4,61.4 C127.2,58.7 125.0,60.5 128.0,58.0 C131.1,55.5 136.8,50.8 141.7,46.6 C146.6,42.4 152.4,37.7 157.7,32.9 C163.0,28.1 170.6,20.9 173.7,18.0 C176.8,15.1 175.6,15.9 176.0,15.5" fill="none" stroke="#2e3192" stroke-width="1.6" stroke-dasharray="1.6 3.0"/>
</g>
<path d="M68.6,16.9 H196.7" stroke="#666" stroke-width="1.2" fill="none"/>
<path d="M68.6,111.2 H196.7" stroke="#333" stroke-width="1" fill="none"/>
<path d="M68.6,16.5 V111.60000000000001" stroke="#2e3192" stroke-width="1.3" fill="none"/>
<path d="M196.7,16.5 V111.60000000000001" stroke="#2e3192" stroke-width="1" stroke-opacity="0.55" fill="none"/>
<path d="M72.6,111.2 v-2 M72.6,16.9 v2 M114.9,111.2 v-2 M114.9,16.9 v2 M157.9,111.2 v-2 M157.9,16.9 v2 " stroke="#333" stroke-width="0.7" fill="none"/>
<path d="M68.6,34.3 h2 M196.7,34.3 h-2 M68.6,57 h2 M196.7,57 h-2 M68.6,79.6 h2 M196.7,79.6 h-2 M68.6,102.2 h2 M196.7,102.2 h-2 " stroke="#2e3192" stroke-width="0.7" fill="none"/>
<rect x="101.5" y="145.7" width="67.5" height="49.5" fill="none" stroke="#000" stroke-width="1.05" stroke-dasharray="1.5 1.1"/>
<path d="M108.8,145.5 V118" stroke="#555" stroke-width="0.6" fill="none"/>
<path d="M108.8,115.3 l1.7,3.6 h-3.4 z" fill="#222"/>
<path d="M293.6,16.8 L331,37.2" stroke="#2e3192" stroke-width="0.45" fill="none"/>
<path d="M332.5,38.2 l-3.9,-0.6 1.5,-2.8 z" fill="#2e3192"/>
<path d="M285.6,48.2 L308,64.9" stroke="#2e3192" stroke-width="0.45" fill="none"/>
<path d="M309.5,66 l-3.9,-0.9 1.9,-2.6 z" fill="#2e3192"/>
<text x="127.5" y="130.4" font-size="14.9" fill="#2e3192" stroke="#2e3192" stroke-width="0.4">0 T, F</text>
<text x="217.6" y="133.9" font-size="14.9" fill="#2e3192" stroke="#2e3192" stroke-width="0.4">0 S, G</text>
<text x="325.2" y="51.8" font-size="14.9" fill="#2e3192" stroke="#2e3192" stroke-width="0.4">0 S, F</text>
<text x="296.6" y="79.7" font-size="14.9" fill="#2e3192" stroke="#2e3192" stroke-width="0.4">0 T, G</text>
<text x="182.8" y="174.0" font-size="14.9" fill="#00a651" stroke="#00a651" stroke-width="0.4">7 S, F</text>
<text x="354.2" y="104.5" font-size="14.9" fill="#00a651" stroke="#00a651" stroke-width="0.4">7 T, F</text>
<text x="341.7" y="145.7" font-size="14.9" fill="#00a651" stroke="#00a651" stroke-width="0.4">7 S, G</text>
<text x="346.9" y="183.6" font-size="14.9" fill="#00a651" stroke="#00a651" stroke-width="0.4">7 T, G</text>
<g font-family="'Liberation Serif',serif" font-style="italic" fill="#222">
<text x="206.8" y="283.1" font-size="19" textLength="14.3" lengthAdjust="spacingAndGlyphs">B</text>
<text x="229.6" y="285.1" font-size="21.5" font-style="normal" textLength="6.2" lengthAdjust="spacingAndGlyphs">(</text>
<text x="235.9" y="283.1" font-size="19" textLength="17.6" lengthAdjust="spacingAndGlyphs">m</text>
<text x="252.6" y="283.1" font-size="19" textLength="12.5" lengthAdjust="spacingAndGlyphs">T</text>
<text x="267.2" y="285.1" font-size="21.5" font-style="normal" textLength="6.2" lengthAdjust="spacingAndGlyphs">)</text>
<g transform="translate(14,171.5) rotate(-90)">
<text x="-0.3" y="0" font-size="18.5" textLength="15.2" lengthAdjust="spacingAndGlyphs">E</text>
<text x="14.8" y="5.7" font-size="13.5" font-style="normal" textLength="8.2" lengthAdjust="spacingAndGlyphs">2</text>
<text x="23.8" y="5.7" font-size="13.5" textLength="8.4" lengthAdjust="spacingAndGlyphs">e</text>
<text x="37.9" y="2" font-size="21" font-style="normal" textLength="7.2" lengthAdjust="spacingAndGlyphs">(</text>
<text x="46.9" y="0" font-size="18.5" textLength="16.2" lengthAdjust="spacingAndGlyphs">m</text>
<text x="63.2" y="0" font-size="18.5" textLength="10.6" lengthAdjust="spacingAndGlyphs">e</text>
<text x="73.6" y="0" font-size="18.5" textLength="11.6" lengthAdjust="spacingAndGlyphs">V</text>
<text x="86.3" y="2" font-size="21" font-style="normal" textLength="7.4" lengthAdjust="spacingAndGlyphs">)</text>
</g>
</g>
</svg>
</body></html>
